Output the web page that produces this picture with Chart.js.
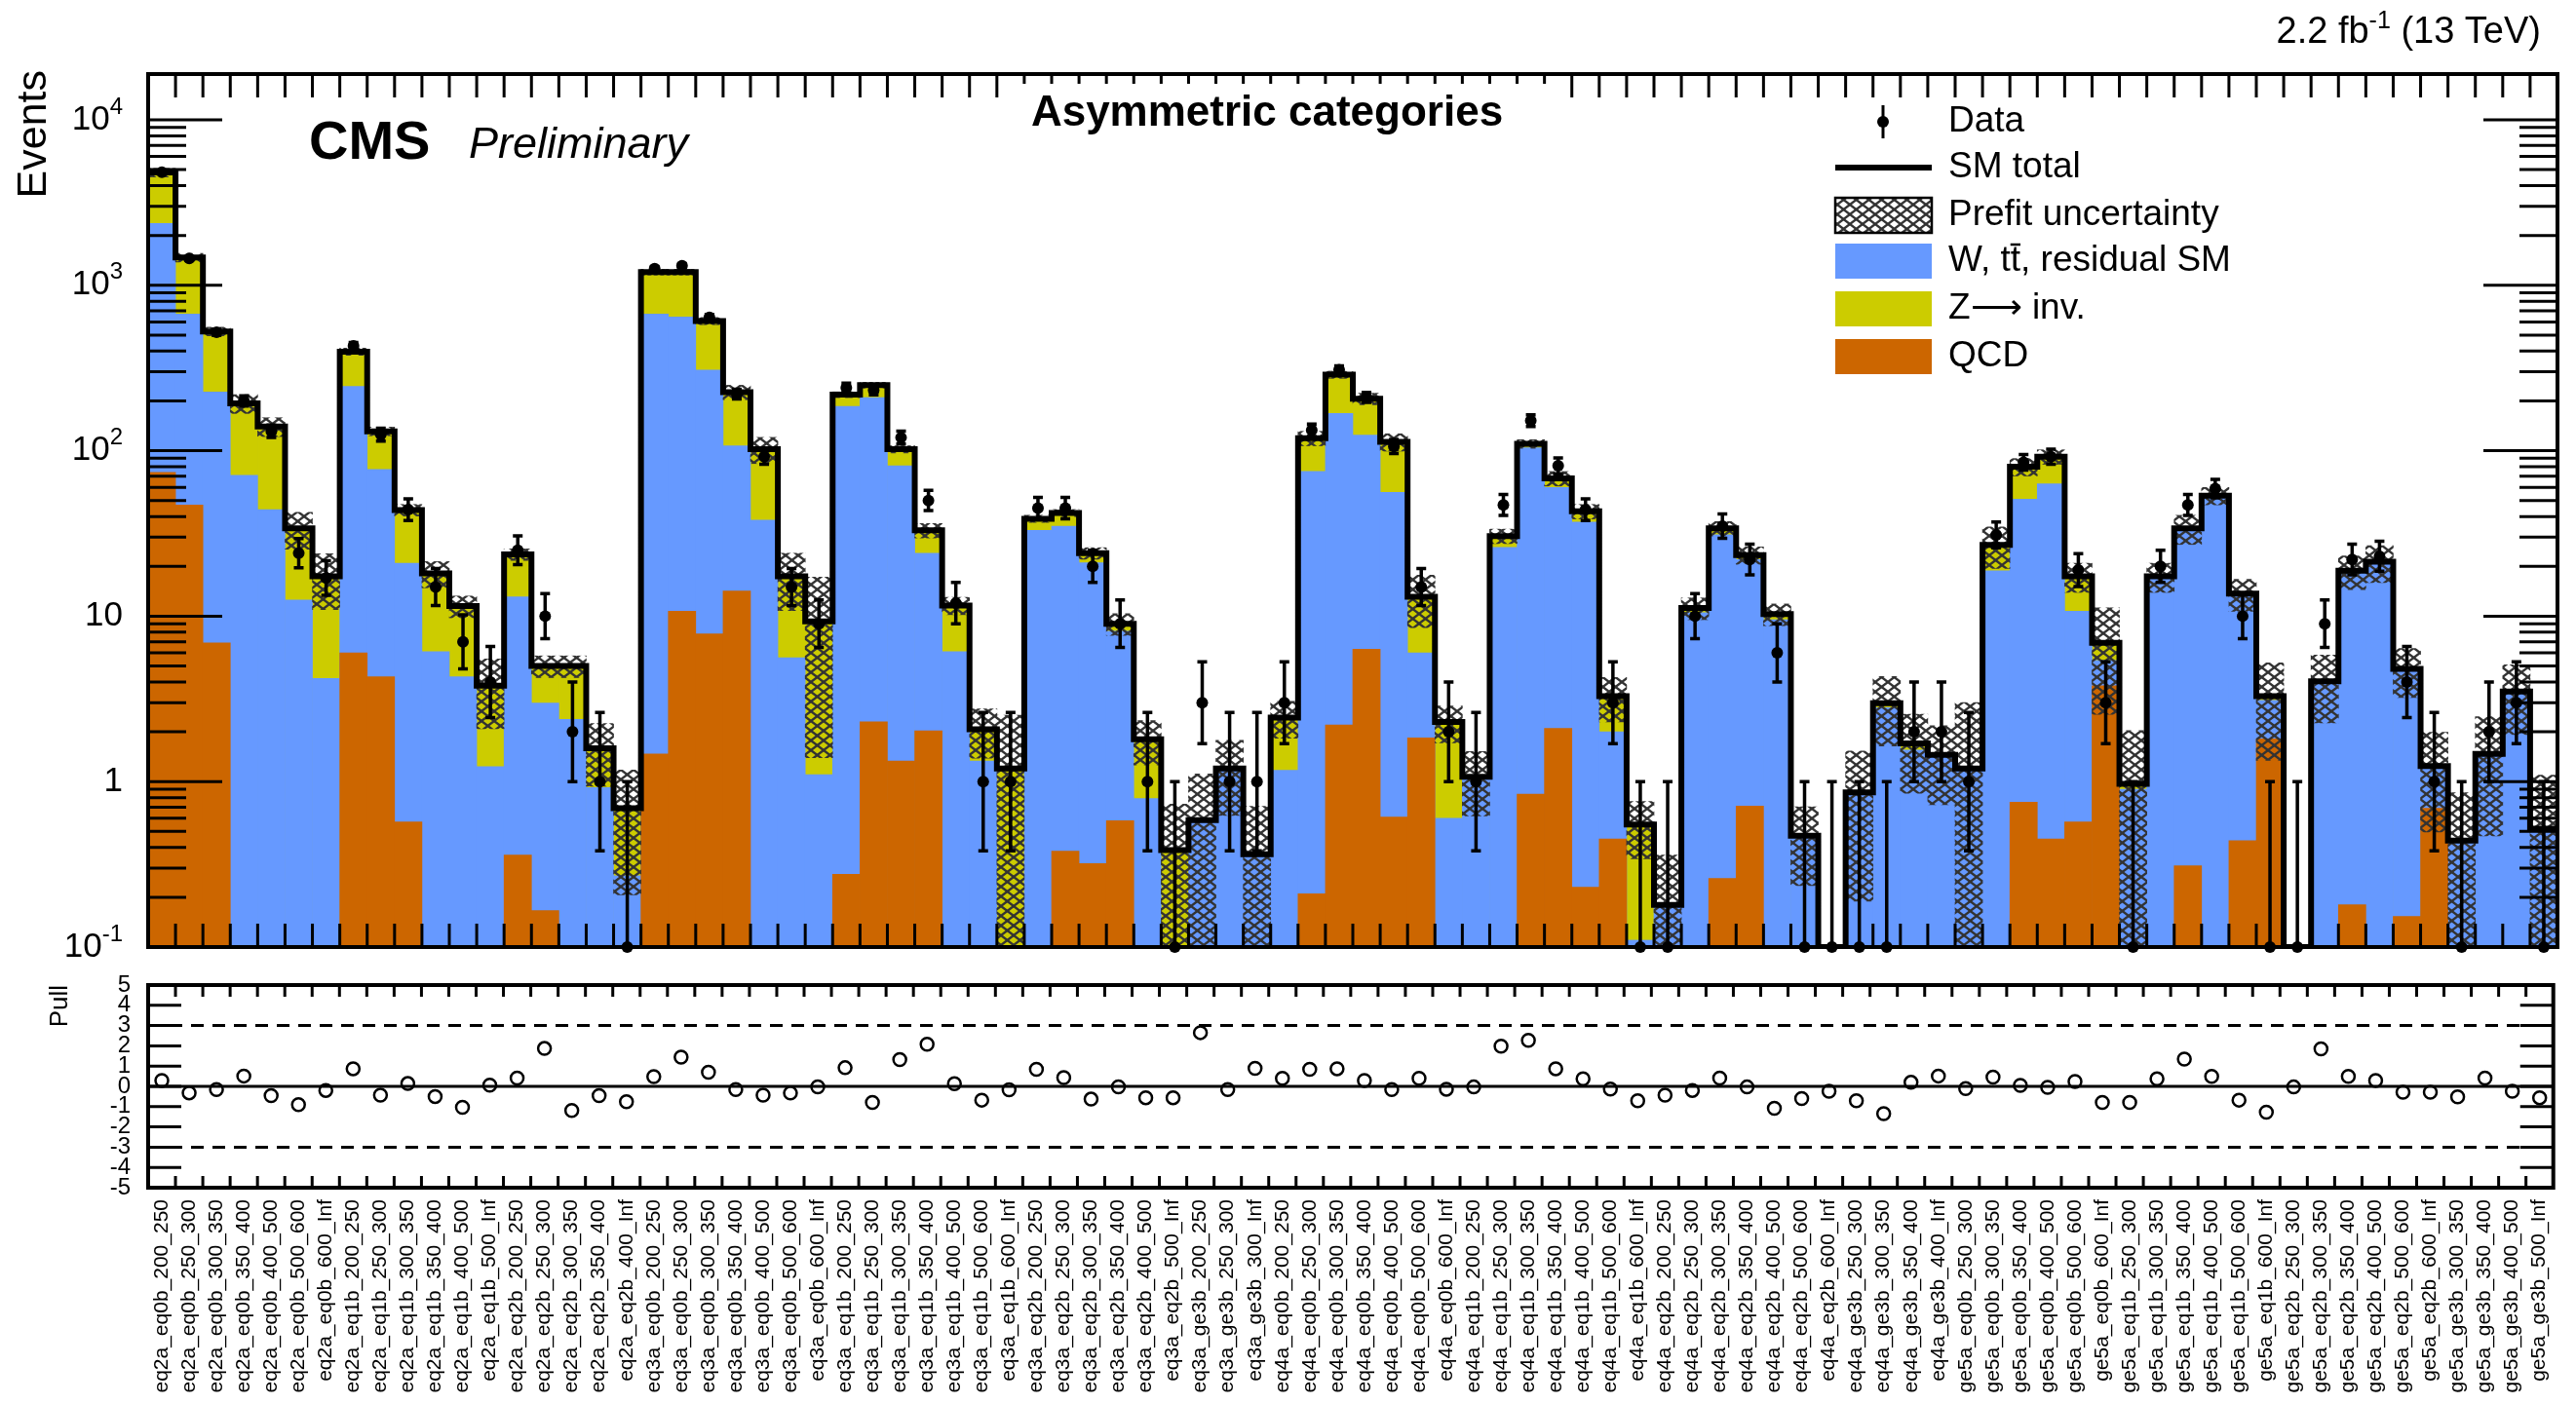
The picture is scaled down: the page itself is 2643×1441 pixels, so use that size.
<!DOCTYPE html>
<html>
<head>
<meta charset="utf-8">
<title>Asymmetric categories</title>
<script src="https://cdn.jsdelivr.net/npm/chart.js@4.4.1/dist/chart.umd.min.js"></script>
<style>
  html, body { margin: 0; padding: 0; background: #fff; }
  #wrap { position: relative; width: 2643px; height: 1441px; }
  #wrap canvas { position: absolute; left: 0; top: 0; }
</style>
</head>
<body>
<div id="wrap">
  <canvas id="main" width="2643" height="1441"></canvas>
  <canvas id="pull" width="2643" height="1441"></canvas>
</div>
<script>
const FONT = '"Liberation Sans", Arial, Helvetica, sans-serif'
const Y_MIN = 0.1
const Y_MAX = 18900

const binLabels = [
  'eq2a_eq0b_200_250', 'eq2a_eq0b_250_300', 'eq2a_eq0b_300_350', 'eq2a_eq0b_350_400', 'eq2a_eq0b_400_500', 'eq2a_eq0b_500_600', 'eq2a_eq0b_600_Inf',
  'eq2a_eq1b_200_250', 'eq2a_eq1b_250_300', 'eq2a_eq1b_300_350', 'eq2a_eq1b_350_400', 'eq2a_eq1b_400_500', 'eq2a_eq1b_500_Inf',
  'eq2a_eq2b_200_250', 'eq2a_eq2b_250_300', 'eq2a_eq2b_300_350', 'eq2a_eq2b_350_400', 'eq2a_eq2b_400_Inf',
  'eq3a_eq0b_200_250', 'eq3a_eq0b_250_300', 'eq3a_eq0b_300_350', 'eq3a_eq0b_350_400', 'eq3a_eq0b_400_500', 'eq3a_eq0b_500_600', 'eq3a_eq0b_600_Inf',
  'eq3a_eq1b_200_250', 'eq3a_eq1b_250_300', 'eq3a_eq1b_300_350', 'eq3a_eq1b_350_400', 'eq3a_eq1b_400_500', 'eq3a_eq1b_500_600', 'eq3a_eq1b_600_Inf',
  'eq3a_eq2b_200_250', 'eq3a_eq2b_250_300', 'eq3a_eq2b_300_350', 'eq3a_eq2b_350_400', 'eq3a_eq2b_400_500', 'eq3a_eq2b_500_Inf',
  'eq3a_ge3b_200_250', 'eq3a_ge3b_250_300', 'eq3a_ge3b_300_Inf',
  'eq4a_eq0b_200_250', 'eq4a_eq0b_250_300', 'eq4a_eq0b_300_350', 'eq4a_eq0b_350_400', 'eq4a_eq0b_400_500', 'eq4a_eq0b_500_600', 'eq4a_eq0b_600_Inf',
  'eq4a_eq1b_200_250', 'eq4a_eq1b_250_300', 'eq4a_eq1b_300_350', 'eq4a_eq1b_350_400', 'eq4a_eq1b_400_500', 'eq4a_eq1b_500_600', 'eq4a_eq1b_600_Inf',
  'eq4a_eq2b_200_250', 'eq4a_eq2b_250_300', 'eq4a_eq2b_300_350', 'eq4a_eq2b_350_400', 'eq4a_eq2b_400_500', 'eq4a_eq2b_500_600', 'eq4a_eq2b_600_Inf',
  'eq4a_ge3b_250_300', 'eq4a_ge3b_300_350', 'eq4a_ge3b_350_400', 'eq4a_ge3b_400_Inf',
  'ge5a_eq0b_250_300', 'ge5a_eq0b_300_350', 'ge5a_eq0b_350_400', 'ge5a_eq0b_400_500', 'ge5a_eq0b_500_600', 'ge5a_eq0b_600_Inf',
  'ge5a_eq1b_250_300', 'ge5a_eq1b_300_350', 'ge5a_eq1b_350_400', 'ge5a_eq1b_400_500', 'ge5a_eq1b_500_600', 'ge5a_eq1b_600_Inf',
  'ge5a_eq2b_250_300', 'ge5a_eq2b_300_350', 'ge5a_eq2b_350_400', 'ge5a_eq2b_400_500', 'ge5a_eq2b_500_600', 'ge5a_eq2b_600_Inf',
  'ge5a_ge3b_300_350', 'ge5a_ge3b_350_400', 'ge5a_ge3b_400_500', 'ge5a_ge3b_500_Inf'
]

// stack levels per bin: QCD on the bottom, W/tt on top of it, Z->inv up to the SM total
const qcdLevel = [
  74, 47, 6.9, 0, 0, 0, 0, 6.0, 4.3, 0.57, 0, 0, 0, 0.36, 0.166, 0, 0, 0,
  1.47, 10.7, 7.8, 14.2, 0, 0, 0, 0.275, 2.3, 1.33, 2.03, 0, 0, 0, 0, 0.38, 0.32, 0.58, 0, 0, 0, 0, 0,
  0, 0.21, 2.2, 6.3, 0.61, 1.84, 0, 0, 0, 0.84, 2.1, 0.23, 0.45, 0, 0, 0, 0.26, 0.71, 0, 0, 0, 0, 0, 0, 0,
  0, 0.1, 0.75, 0.45, 0.57, 3.8, 0, 0, 0.31, 0, 0.44, 1.81, 0, 0, 0.18, 0, 0.153, 0.69, 0, 0, 0, 0
]
const wttLevel = [
  2360, 670, 226, 71, 44, 12.5, 4.2, 245, 77, 20.9, 6.1, 4.3, 1.23, 13.1, 2.98, 2.38, 0.92, 0.27,
  670, 643, 307, 107, 38, 5.6, 1.1, 185, 209, 81, 24, 6.1, 1.33, 0, 33, 35, 21, 8.1, 0.79, 0, 0.585, 1.2, 0.364,
  1.17, 75, 168, 124, 56, 6.0, 0.6, 1.07, 26, 104, 60, 37, 2.0, 0.11, 0.18, 10.5, 31, 22, 9.5, 0.47, 0.1, 0.86, 2.8, 1.55, 1.4,
  1.2, 18.8, 51, 63, 10.7, 5.4, 0.9, 17, 33, 52, 13.2, 3.1, 0.1, 3.9, 18.5, 21, 4.7, 1.2, 0.44, 1.45, 3.4, 0.52
]
const smTotal = [
  4800, 1470, 526, 193, 140, 33.9, 17.4, 397, 131, 43.8, 18.1, 11.5, 3.8, 23.6, 5.0, 5.0, 1.59, 0.69,
  1200, 1200, 608, 226, 102, 17.4, 9.3, 218, 249, 102, 33, 11.6, 2.07, 1.2, 38.8, 42, 24, 9.0, 1.8, 0.385, 0.585, 1.2, 0.364,
  2.44, 119, 288, 206, 113, 13.1, 2.29, 1.07, 30.5, 110, 68, 43, 3.28, 0.55, 0.18, 11.2, 33.9, 23.4, 10.3, 0.47, 0.1, 0.86, 2.98, 1.70, 1.45,
  1.2, 27, 80, 92, 17.4, 6.9, 0.97, 17.4, 33.9, 53.5, 13.7, 3.28, 0.1, 4.04, 18.8, 21.3, 4.8, 1.24, 0.44, 1.47, 3.5, 0.52
]
// relative prefit uncertainty on the SM total
const prefitUnc = [
  0.06, 0.06, 0.06, 0.13, 0.13, 0.25, 0.37, 0.05, 0.06, 0.08, 0.18, 0.15, 0.45, 0.08, 0.15, 0.15, 0.41, 0.7,
  0.04, 0.04, 0.05, 0.10, 0.18, 0.38, 0.85, 0.04, 0.04, 0.05, 0.10, 0.12, 0.33, 1.1, 0.05, 0.05, 0.08, 0.15, 0.3, 0.9, 0.9, 0.48, 0.95,
  0.25, 0.10, 0.05, 0.08, 0.12, 0.35, 0.25, 0.42, 0.10, 0.06, 0.10, 0.10, 0.3, 0.38, 1.0, 0.15, 0.10, 0.12, 0.15, 0.5, 0, 0.78, 0.45, 0.5, 0.5,
  1.5, 0.28, 0.12, 0.10, 0.2, 0.63, 1.1, 0.2, 0.2, 0.12, 0.22, 0.59, 0, 0.44, 0.23, 0.25, 0.33, 0.6, 0.95, 0.68, 0.45, 1.1
]
const dataCounts = [
  4820, 1450, 520, 200, 131, 24, 17, 430, 125, 44, 15, 7, 4, 25, 10, 2, 1, 0,
  1260, 1310, 640, 220, 92, 15, 9, 240, 232, 120, 50, 12, 1, 1, 45, 45, 20, 9, 1, 0, 3, 1, 1,
  3, 133, 308, 210, 106, 15, 2, 1, 47, 152, 81, 44, 3, 0, 0, 10, 35, 22, 6, 0, 0, 0, 0, 2, 2,
  1, 31, 85, 92, 19, 3, 0, 20, 47, 59, 10, 0, 0, 9, 22, 23, 4, 1, 0, 2, 3, 0
]
const pulls = [
  0.29, -0.32, -0.16, 0.51, -0.46, -0.9, -0.2, 0.87, -0.43, 0.14, -0.5, -1.03, 0.06, 0.41, 1.87, -1.19, -0.46, -0.76,
  0.48, 1.44, 0.70, -0.16, -0.43, -0.33, -0.02, 0.92, -0.79, 1.32, 2.08, 0.13, -0.68, -0.17, 0.84, 0.43, -0.63, -0.02, -0.56, -0.56, 2.65, -0.16, 0.89,
  0.40, 0.84, 0.87, 0.29, -0.16, 0.40, -0.14, -0.03, 1.98, 2.27, 0.87, 0.37, -0.13, -0.71, -0.43, -0.20, 0.41, -0.03, -1.08, -0.60, -0.24, -0.71, -1.35, 0.20, 0.51,
  -0.11, 0.46, 0.05, -0.05, 0.24, -0.79, -0.79, 0.37, 1.35, 0.49, -0.68, -1.27, -0.03, 1.85, 0.49, 0.29, -0.29, -0.29, -0.52, 0.41, -0.24, -0.56
]

const colors = { wtt: '#6699ff', zinv: '#cccc00', qcd: '#cc6600', hatch: '#333333' }

function crossHatch(color) {
  const w = 13, h = 10
  const c = document.createElement('canvas')
  c.width = w
  c.height = h
  const g = c.getContext('2d')
  g.strokeStyle = color
  g.lineWidth = 2.4
  for (let k = -2; k <= 3; k++) {
    g.beginPath(); g.moveTo(k * w - w, -h); g.lineTo(k * w + 2 * w, 2 * h); g.stroke()
    g.beginPath(); g.moveTo(k * w - w, 2 * h); g.lineTo(k * w + 2 * w, -h); g.stroke()
  }
  return g.createPattern(c, 'repeat')
}
const hatch = crossHatch(colors.hatch)

const pts = arr => arr.map((v, i) => ({ x: i, y: v }))
const yAxisWidth = scale => { scale.width = 152 }

// ROOT style frame: thick box, inward ticks at bin edges and on both y sides
const rootFrame = {
  id: 'rootFrame',
  afterDraw(chart, args, opts) {
    const { ctx, chartArea: a, scales: { x, y } } = chart
    ctx.save()
    ctx.strokeStyle = '#000'
    ctx.lineWidth = 3
    ctx.beginPath()
    for (let i = 1; i < binLabels.length; i++) {
      const px = x.getPixelForValue(i - 0.5)
      ctx.moveTo(px, a.top); ctx.lineTo(px, a.top + opts.xTick)
      ctx.moveTo(px, a.bottom); ctx.lineTo(px, a.bottom - opts.xTick)
    }
    opts.yTicks.forEach(([v, len]) => {
      const py = y.getPixelForValue(v)
      ctx.moveTo(a.left, py); ctx.lineTo(a.left + len, py)
      ctx.moveTo(a.right, py); ctx.lineTo(a.right - len, py)
    })
    ctx.stroke()
    ctx.lineWidth = 4
    ctx.strokeRect(a.left, a.top, a.right - a.left, a.bottom - a.top)
    ctx.restore()
  }
}

// asymmetric Poisson bars on the observed counts
const dataErrorBars = {
  id: 'dataErrorBars',
  afterDatasetsDraw(chart) {
    const { ctx, chartArea: a, scales: { x, y } } = chart
    ctx.save()
    ctx.strokeStyle = '#000'
    ctx.lineWidth = 3.5
    ctx.beginPath()
    dataCounts.forEach((n, i) => {
      const half = Math.sqrt(n + 0.25)
      const lo = n - half + 0.5
      const hi = n + half + 0.5
      const px = x.getPixelForValue(i)
      const yHi = Math.max(y.getPixelForValue(hi), a.top)
      const yLo = lo > Y_MIN ? y.getPixelForValue(lo) : a.bottom
      ctx.moveTo(px, yLo); ctx.lineTo(px, yHi)
      ctx.moveTo(px - 5, yHi); ctx.lineTo(px + 5, yHi)
      if (lo > Y_MIN) { ctx.moveTo(px - 5, yLo); ctx.lineTo(px + 5, yLo) }
    })
    ctx.stroke()
    ctx.restore()
  }
}

function drawRuns(ctx, runs, xRight, y) {
  let total = 0
  runs.forEach(r => { ctx.font = r.font; r.w = ctx.measureText(r.text).width; total += r.w })
  let x = xRight - total
  runs.forEach(r => { ctx.font = r.font; ctx.fillText(r.text, x, y - (r.rise || 0)); x += r.w })
}

const mainDecor = {
  id: 'mainDecor',
  afterDraw(chart) {
    const { ctx, scales: { y } } = chart
    ctx.save()
    ctx.fillStyle = '#000'
    ctx.textAlign = 'left'

    // decade labels with raised exponents
    ctx.textBaseline = 'middle'
    ;[[0.1, '10', '-1'], [1, '1', ''], [10, '10', ''], [100, '10', '2'], [1000, '10', '3'], [10000, '10', '4']].forEach(([v, b, e]) => {
      const runs = [{ text: b, font: `35px ${FONT}` }]
      if (e) runs.push({ text: e, font: `24px ${FONT}`, rise: 13 })
      drawRuns(ctx, runs, 126, y.getPixelForValue(v))
    })

    // y title
    ctx.save()
    ctx.translate(35, 72)
    ctx.rotate(-Math.PI / 2)
    ctx.textAlign = 'right'
    ctx.font = `43px ${FONT}`
    ctx.fillText('Events', 0, 0)
    ctx.restore()

    ctx.textBaseline = 'alphabetic'
    ctx.font = `bold 56px ${FONT}`
    ctx.fillText('CMS', 317, 163)
    ctx.font = `italic 45px ${FONT}`
    ctx.fillText('Preliminary', 481, 162)

    ctx.fillStyle = '#fff'
    ctx.fillRect(1029, 86, 573, 62)
    ctx.fillStyle = '#000'
    ctx.textAlign = 'center'
    ctx.font = `bold 44px ${FONT}`
    ctx.fillText('Asymmetric categories', 1300, 129)
    ctx.textAlign = 'left'

    drawRuns(ctx, [
      { text: '2.2 fb', font: `38px ${FONT}` },
      { text: '-1', font: `25px ${FONT}`, rise: 15 },
      { text: ' (13 TeV)', font: `38px ${FONT}` }
    ], 2607, 44)

    // legend
    const x0 = 1883, x1 = 1982, tx = 1999, bh = 36
    const rows = [125, 172, 221, 268, 317, 366]
    ctx.strokeStyle = '#000'
    ctx.lineWidth = 3
    ctx.beginPath()
    ctx.moveTo(1932, rows[0] - 17); ctx.lineTo(1932, rows[0] + 17)
    ctx.stroke()
    ctx.beginPath()
    ctx.arc(1932, rows[0], 6, 0, Math.PI * 2)
    ctx.fill()
    ctx.lineWidth = 6
    ctx.beginPath()
    ctx.moveTo(x0, rows[1]); ctx.lineTo(x1, rows[1])
    ctx.stroke()
    ctx.fillStyle = hatch
    ctx.fillRect(x0, rows[2] - bh / 2, x1 - x0, bh)
    ctx.lineWidth = 2.5
    ctx.strokeRect(x0, rows[2] - bh / 2, x1 - x0, bh)
    ;[[rows[3], colors.wtt], [rows[4], colors.zinv], [rows[5], colors.qcd]].forEach(([ry, c]) => {
      ctx.fillStyle = c
      ctx.fillRect(x0, ry - bh / 2, x1 - x0, bh)
    })

    ctx.fillStyle = '#000'
    ctx.textBaseline = 'middle'
    ctx.font = `37px ${FONT}`
    const texts = ['Data', 'SM total', 'Prefit uncertainty', 'W, tt, residual SM', 'Z\u27f6 inv.', 'QCD']
    texts.forEach((t, i) => ctx.fillText(t, tx, rows[i]))
    // bar over the second t
    const tb = tx + ctx.measureText('W, t').width
    const tw = ctx.measureText('t').width
    ctx.lineWidth = 2.5
    ctx.beginPath()
    ctx.moveTo(tb, rows[3] - 17); ctx.lineTo(tb + tw, rows[3] - 17)
    ctx.stroke()
    ctx.restore()
  }
}

const mainYTicks = []
for (let e = -1; e <= 4; e++) {
  const d = Math.pow(10, e)
  mainYTicks.push([d, 76])
  for (let k = 2; k <= 9; k++) if (k * d < Y_MAX) mainYTicks.push([k * d, 39])
}

new Chart(document.getElementById('main'), {
  type: 'bar',
  data: {
    datasets: [
      {
        type: 'line', label: 'Data', order: 0, showLine: false, clip: 10,
        data: dataCounts.map((n, i) => ({ x: i, y: n > 0 ? n : Y_MIN })),
        pointRadius: 6, pointBackgroundColor: '#000', pointBorderWidth: 0
      },
      {
        type: 'line', label: 'SM total', order: 1,
        data: smTotal.flatMap((t, i) => [{ x: i - 0.5, y: t }, { x: i + 0.5, y: t }]),
        borderColor: '#000', borderWidth: 6, pointRadius: 0, fill: false, tension: 0,
        borderJoinStyle: 'miter'
      },
      {
        label: 'Prefit uncertainty', order: 2,
        data: smTotal.map((t, i) => ({ x: i, y: [Math.max(t * (1 - prefitUnc[i]), 1e-3), t * (1 + prefitUnc[i])] })),
        backgroundColor: hatch
      },
      { label: 'QCD', order: 3, data: pts(qcdLevel), backgroundColor: colors.qcd },
      { label: 'W, tt, residual SM', order: 4, data: pts(wttLevel), backgroundColor: colors.wtt },
      { label: 'Z inv.', order: 5, data: pts(smTotal), backgroundColor: colors.zinv }
    ]
  },
  options: {
    responsive: false,
    animation: false,
    events: [],
    devicePixelRatio: 1,
    layout: { padding: { top: 76, right: 19, bottom: 469, left: 0 } },
    datasets: { bar: { grouped: false, barPercentage: 1, categoryPercentage: 1, borderWidth: 0 } },
    scales: {
      x: { type: 'linear', min: -0.5, max: 87.5, offset: false, display: false },
      y: {
        type: 'logarithmic', min: Y_MIN, max: Y_MAX,
        ticks: { display: false },
        grid: { display: false, drawTicks: false },
        border: { display: false },
        afterFit: yAxisWidth
      }
    },
    plugins: {
      legend: { display: false },
      tooltip: { enabled: false },
      rootFrame: { xTick: 24, yTicks: mainYTicks }
    }
  },
  plugins: [dataErrorBars, rootFrame, mainDecor]
})

const pullDecor = {
  id: 'pullDecor',
  afterDraw(chart) {
    const { ctx } = chart
    ctx.save()
    ctx.translate(62, 1011)
    ctx.rotate(-Math.PI / 2)
    ctx.textAlign = 'right'
    ctx.textBaseline = 'middle'
    ctx.fillStyle = '#000'
    ctx.font = `26px ${FONT}`
    ctx.fillText('Pull', 0, 0)
    ctx.restore()
  }
}

const flat = v => [{ x: -0.5, y: v }, { x: 87.5, y: v }]

new Chart(document.getElementById('pull'), {
  type: 'line',
  data: {
    datasets: [
      {
        label: 'Pull', order: 0, showLine: false, data: pts(pulls),
        pointRadius: 6.5, pointBorderWidth: 2.5, pointBorderColor: '#000',
        pointBackgroundColor: 'rgba(0,0,0,0)'
      },
      { order: 1, data: flat(0), borderColor: '#000', borderWidth: 3, pointRadius: 0 },
      { order: 1, data: flat(3), borderColor: '#000', borderWidth: 3, borderDash: [13, 9], pointRadius: 0 },
      { order: 1, data: flat(-3), borderColor: '#000', borderWidth: 3, borderDash: [13, 9], pointRadius: 0 }
    ]
  },
  options: {
    responsive: false,
    animation: false,
    events: [],
    devicePixelRatio: 1,
    layout: { padding: { top: 1011, right: 19, bottom: 0, left: 0 } },
    scales: {
      x: {
        type: 'linear', min: -0.5, max: 87.5, offset: false,
        afterBuildTicks: s => { s.ticks = binLabels.map((_, i) => ({ value: i })) },
        afterFit: s => { s.height = 222 },
        grid: { display: false, drawTicks: false },
        border: { display: false },
        ticks: {
          autoSkip: false, minRotation: 90, maxRotation: 90, padding: 12, color: '#000',
          font: { family: FONT, size: 21 },
          callback: v => binLabels[v]
        }
      },
      y: {
        min: -5, max: 5,
        ticks: { stepSize: 1, autoSkip: false, padding: 18, color: '#000', font: { family: FONT, size: 24 } },
        grid: { display: false, drawTicks: false },
        border: { display: false },
        afterFit: yAxisWidth
      }
    },
    plugins: {
      legend: { display: false },
      tooltip: { enabled: false },
      rootFrame: { xTick: 12, yTicks: [-4, -3, -2, -1, 0, 1, 2, 3, 4].map(v => [v, 34]) }
    }
  },
  plugins: [rootFrame, pullDecor]
})
</script>
</body>
</html>
